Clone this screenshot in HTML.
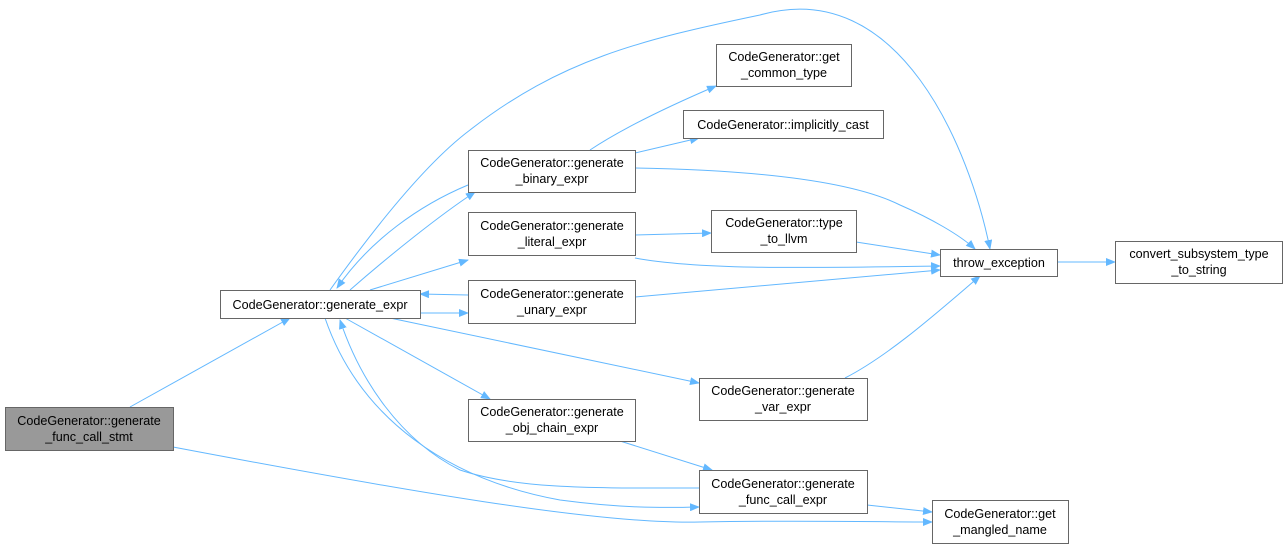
<!DOCTYPE html>
<html><head><meta charset="utf-8"><style>
html,body{margin:0;padding:0;background:#fff;}
svg{display:block;}
text{font-family:"Liberation Sans",Arial,sans-serif;font-size:12.6px;fill:#000;}
</style></head><body>
<svg width="1288" height="549" viewBox="0 0 1288 549" xmlns="http://www.w3.org/2000/svg">
<defs>
<marker id="a" markerWidth="10" markerHeight="8" refX="9" refY="4" orient="auto" markerUnits="userSpaceOnUse">
<path d="M0,0 L10,4 L0,8 Z" fill="#63b8ff"/>
</marker>
</defs>
<g fill="none" stroke="#63b8ff" stroke-width="1" marker-end="url(#a)">
<path d="M130,407 L290,318"/>
<path d="M173,447 C400,490 600,525 700,522 C800,520 880,522 932,522"/>
<path d="M330,290 C380,220 430,160 470,130 C560,60 640,40 760,15 C900,-25 970,150 990,249"/>
<path d="M468,185 C420,205 370,240 337,288"/>
<path d="M350,290 C390,255 440,215 475,192"/>
<path d="M370,290 L468,260"/>
<path d="M468,295 L420,294"/>
<path d="M420,313 L468,313"/>
<path d="M390,318 L699,383"/>
<path d="M345,318 L490,399"/>
<path d="M325,318 C360,420 450,480 560,500 C620,508 660,508 699,507"/>
<path d="M699,488 C600,488 520,490 460,470 C400,440 360,380 340,320"/>
<path d="M590,150 C620,130 660,110 716,86"/>
<path d="M635,153 L699,138"/>
<path d="M635,168 C750,170 850,180 900,205 C930,218 960,235 975,249"/>
<path d="M635,235 L711,233"/>
<path d="M635,258 C700,270 800,268 940,266"/>
<path d="M856,242 L940,255"/>
<path d="M635,297 L940,270"/>
<path d="M845,378 C890,355 940,310 980,276"/>
<path d="M620,441 L712,470"/>
<path d="M867,505 L932,512"/>
<path d="M1057,262 L1115,262"/>
</g>
<g stroke="#666" stroke-width="1" fill="#fff">
<rect x="5.5" y="407.5" width="168" height="43" fill="#999"/>
<rect x="220.5" y="290.5" width="200" height="28"/>
<rect x="468.5" y="150.5" width="167" height="42"/>
<rect x="468.5" y="212.5" width="167" height="43"/>
<rect x="468.5" y="280.5" width="167" height="43"/>
<rect x="468.5" y="399.5" width="167" height="42"/>
<rect x="716.5" y="44.5" width="135" height="42"/>
<rect x="683.5" y="110.5" width="200" height="28"/>
<rect x="711.5" y="210.5" width="145" height="42"/>
<rect x="699.5" y="378.5" width="168" height="42"/>
<rect x="699.5" y="470.5" width="168" height="43"/>
<rect x="940.5" y="249.5" width="117" height="27"/>
<rect x="1115.5" y="241.5" width="167" height="42"/>
<rect x="932.5" y="500.5" width="136" height="43"/>
</g>
<g text-anchor="middle">
<text x="89" y="425">CodeGenerator::generate</text><text x="89" y="441">_func_call_stmt</text>
<text x="320" y="309">CodeGenerator::generate_expr</text>
<text x="552" y="167">CodeGenerator::generate</text><text x="552" y="183">_binary_expr</text>
<text x="552" y="230">CodeGenerator::generate</text><text x="552" y="246">_literal_expr</text>
<text x="552" y="298">CodeGenerator::generate</text><text x="552" y="314">_unary_expr</text>
<text x="552" y="416">CodeGenerator::generate</text><text x="552" y="432">_obj_chain_expr</text>
<text x="784" y="61">CodeGenerator::get</text><text x="784" y="77">_common_type</text>
<text x="783" y="129">CodeGenerator::implicitly_cast</text>
<text x="784" y="227">CodeGenerator::type</text><text x="784" y="243">_to_llvm</text>
<text x="783" y="395">CodeGenerator::generate</text><text x="783" y="411">_var_expr</text>
<text x="783" y="488">CodeGenerator::generate</text><text x="783" y="504">_func_call_expr</text>
<text x="999" y="267">throw_exception</text>
<text x="1199" y="258">convert_subsystem_type</text><text x="1199" y="274">_to_string</text>
<text x="1000" y="518">CodeGenerator::get</text><text x="1000" y="534">_mangled_name</text>
</g>
</svg>
</body></html>
